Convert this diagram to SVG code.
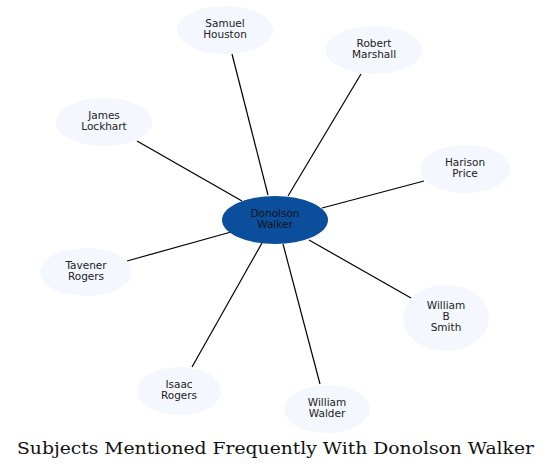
<svg xmlns="http://www.w3.org/2000/svg" width="551" height="470" viewBox="0 0 551 470">
<style>
.n ellipse{fill:#f4f7fd;stroke:none}
.n text{font-family:"DejaVu Sans",sans-serif;font-size:10.5px;fill:#222;text-anchor:middle}
#c ellipse{fill:#0b4f9c}
#c text{fill:#111}
.e line{stroke:#000;stroke-width:1.2}
.t{font-family:"DejaVu Serif",serif;font-size:17px;fill:#111;text-anchor:middle}
</style>
<rect width="551" height="470" fill="#fff"/>
<g class="e" id="edges">
<line x1="232" y1="54" x2="268" y2="195"/>
<line x1="361" y1="74" x2="288" y2="196"/>
<line x1="137" y1="141" x2="242" y2="201"/>
<line x1="424" y1="181" x2="322" y2="208"/>
<line x1="127" y1="261" x2="231" y2="232"/>
<line x1="411" y1="298" x2="309" y2="240"/>
<line x1="192" y1="367" x2="262" y2="243"/>
<line x1="320" y1="384" x2="283" y2="244"/>
</g>
<g class="n" id="samuel"><ellipse cx="225" cy="30" rx="48" ry="24"/><text x="225" y="27">Samuel</text><text x="225" y="38">Houston</text></g>
<g class="n" id="robert"><ellipse cx="374" cy="50" rx="48" ry="24"/><text x="374" y="47">Robert</text><text x="374" y="58">Marshall</text></g>
<g class="n" id="james"><ellipse cx="104" cy="122" rx="48" ry="24"/><text x="104" y="119">James</text><text x="104" y="130">Lockhart</text></g>
<g class="n" id="harison"><ellipse cx="465" cy="169" rx="45" ry="24"/><text x="465" y="166">Harison</text><text x="465" y="177">Price</text></g>
<g class="n" id="c"><ellipse cx="275" cy="220" rx="53" ry="24"/><text x="275" y="217">Donolson</text><text x="275" y="228">Walker</text></g>
<g class="n" id="tavener"><ellipse cx="86" cy="272" rx="46" ry="24"/><text x="86" y="269">Tavener</text><text x="86" y="280">Rogers</text></g>
<g class="n" id="wbsmith"><ellipse cx="446" cy="318" rx="43" ry="33"/><text x="446" y="309">William</text><text x="446" y="320">B</text><text x="446" y="331">Smith</text></g>
<g class="n" id="isaac"><ellipse cx="179" cy="391" rx="42" ry="24"/><text x="179" y="388">Isaac</text><text x="179" y="399">Rogers</text></g>
<g class="n" id="walder"><ellipse cx="327" cy="409" rx="43" ry="24"/><text x="327" y="406">William</text><text x="327" y="417">Walder</text></g>
<text class="t" x="275.5" y="454" textLength="517" lengthAdjust="spacingAndGlyphs">Subjects Mentioned Frequently With Donolson Walker</text>
</svg>
